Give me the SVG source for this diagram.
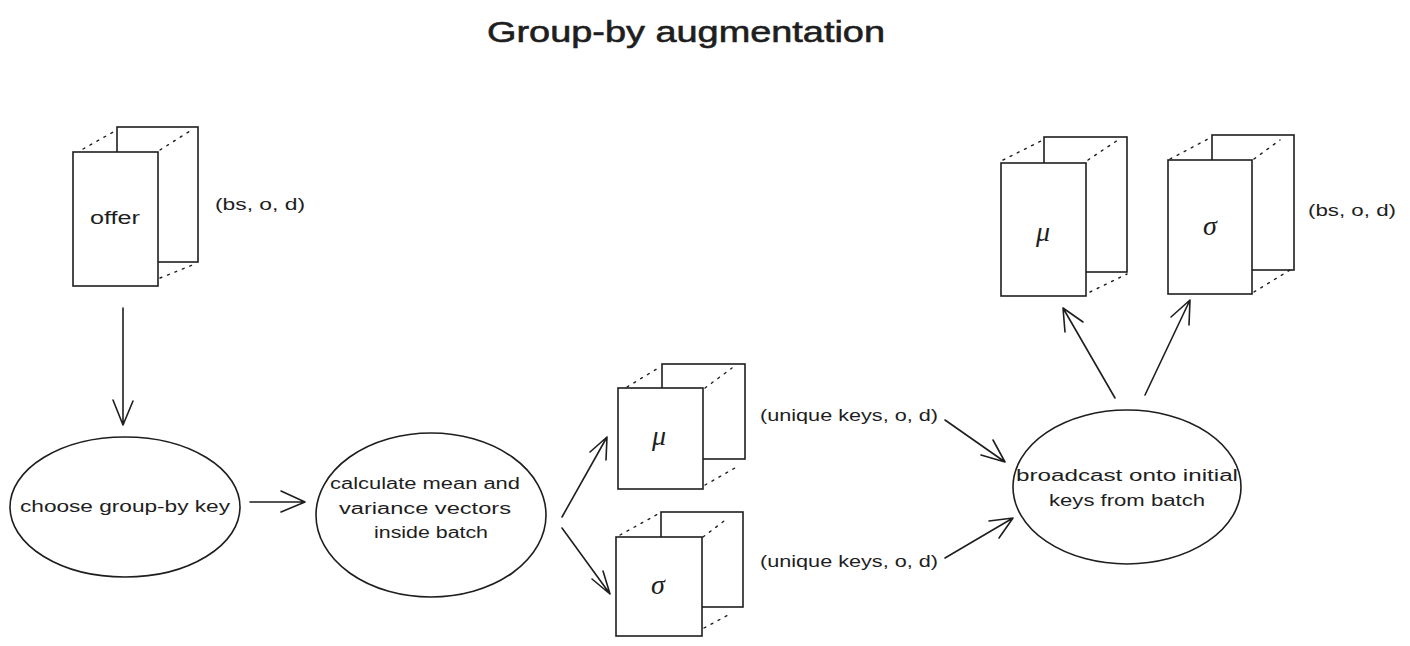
<svg xmlns="http://www.w3.org/2000/svg" width="1410" height="646" viewBox="0 0 1410 646">
<defs>
<style>
.s{fill:none;stroke:#1e1e1e;stroke-width:1.6;stroke-linecap:round;stroke-linejoin:round}
.f{fill:#fff;stroke:#1e1e1e;stroke-width:1.6}
.d{fill:none;stroke:#1e1e1e;stroke-width:1.4;stroke-dasharray:2 6;stroke-linecap:round}
.t{font-family:"Liberation Sans",Arial,sans-serif;font-size:16px;fill:#1e1e1e}
.g{font-family:"Liberation Serif","Times New Roman",serif;font-size:28px;font-style:italic;fill:#1e1e1e}
</style>
</defs>
<rect width="1410" height="646" fill="#fff"/>
<text x="686" y="42" text-anchor="middle" class="t" style="font-size:30px;stroke:#1e1e1e;stroke-width:0.6" textLength="398" lengthAdjust="spacingAndGlyphs">Group-by augmentation</text>

<g id="offer">
<rect x="117" y="127" width="81" height="135" class="f"/>
<line x1="83" y1="149" x2="115" y2="131" class="d"/>
<line x1="160" y1="150" x2="190" y2="131" class="d"/>
<line x1="160" y1="278" x2="195" y2="264" class="d"/>
<rect x="73" y="152" width="85" height="134" class="f"/>
<text x="115" y="224" text-anchor="middle" class="t" style="font-size:18px" textLength="50" lengthAdjust="spacingAndGlyphs">offer</text>
</g>
<text x="215" y="210" class="t" textLength="90" lengthAdjust="spacingAndGlyphs">(bs, o, d)</text>

<g id="choose">
<ellipse cx="125" cy="507" rx="115" ry="70" class="s"/>
<text x="125" y="512" text-anchor="middle" class="t" textLength="210" lengthAdjust="spacingAndGlyphs">choose group-by key</text>
</g>

<g id="calculate">
<ellipse cx="431" cy="515" rx="115" ry="82" class="s"/>
<text x="425" y="489" text-anchor="middle" class="t" textLength="190" lengthAdjust="spacingAndGlyphs">calculate mean and</text>
<text x="425" y="514" text-anchor="middle" class="t" textLength="172" lengthAdjust="spacingAndGlyphs">variance vectors</text>
<text x="431" y="538" text-anchor="middle" class="t" textLength="114" lengthAdjust="spacingAndGlyphs">inside batch</text>
</g>

<g id="mu-mid">
<rect x="662" y="364" width="83" height="95" class="f"/>
<line x1="627" y1="387" x2="660" y2="367" class="d"/>
<line x1="705" y1="388" x2="732" y2="368" class="d"/>
<line x1="705" y1="485" x2="735" y2="468" class="d"/>
<rect x="618" y="388" width="85" height="101" class="f"/>
<text x="659" y="445" text-anchor="middle" class="g">μ</text>
</g>

<g id="sigma-mid">
<rect x="661" y="512" width="82" height="95" class="f"/>
<line x1="620" y1="535" x2="658" y2="514" class="d"/>
<line x1="703" y1="537" x2="728" y2="518" class="d"/>
<line x1="704" y1="628" x2="732" y2="613" class="d"/>
<rect x="616" y="537" width="86" height="99" class="f"/>
<text x="658" y="594" text-anchor="middle" class="g">σ</text>
</g>

<text x="760" y="421" class="t" textLength="178" lengthAdjust="spacingAndGlyphs">(unique keys, o, d)</text>
<text x="760" y="567" class="t" textLength="178" lengthAdjust="spacingAndGlyphs">(unique keys, o, d)</text>

<g id="broadcast">
<ellipse cx="1127" cy="487" rx="114" ry="77" class="s"/>
<text x="1127" y="481" text-anchor="middle" class="t" textLength="222" lengthAdjust="spacingAndGlyphs">broadcast onto initial</text>
<text x="1127" y="506" text-anchor="middle" class="t" textLength="156" lengthAdjust="spacingAndGlyphs">keys from batch</text>
</g>

<g id="mu-top">
<rect x="1044" y="137" width="83" height="135" class="f"/>
<line x1="1003" y1="160" x2="1043" y2="140" class="d"/>
<line x1="1088" y1="160" x2="1118" y2="140" class="d"/>
<line x1="1090" y1="292" x2="1127" y2="274" class="d"/>
<rect x="1001" y="163" width="85" height="133" class="f"/>
<text x="1043" y="241" text-anchor="middle" class="g">μ</text>
</g>

<g id="sigma-top">
<rect x="1212" y="135" width="82" height="135" class="f"/>
<line x1="1170" y1="159" x2="1210" y2="138" class="d"/>
<line x1="1254" y1="159" x2="1280" y2="140" class="d"/>
<line x1="1254" y1="292" x2="1290" y2="270" class="d"/>
<rect x="1168" y="160" width="84" height="134" class="f"/>
<text x="1210" y="235" text-anchor="middle" class="g">σ</text>
</g>
<text x="1308" y="216" class="t" textLength="88" lengthAdjust="spacingAndGlyphs">(bs, o, d)</text>

<g id="connectors" class="s">
<path d="M123 308 L123 425 M113 400 L123 425 L133 401"/>
<path d="M250 502 L305 502 M281 491 L305 502 L281 512"/>
<path d="M562 517 L607 437 M590 452 L607 437 L606 460"/>
<path d="M562 528 L610 594 M592 579 L610 594 L603 571"/>
<path d="M945 420 L1005 462 M981 455 L1005 462 L993 440"/>
<path d="M945 558 L1013 518 M989 521 L1013 518 L999 538"/>
<path d="M1115 398 L1063 308 M1065 332 L1063 308 L1083 322"/>
<path d="M1145 395 L1190 300 M1171 317 L1190 300 L1189 325"/>
</g>
</svg>
